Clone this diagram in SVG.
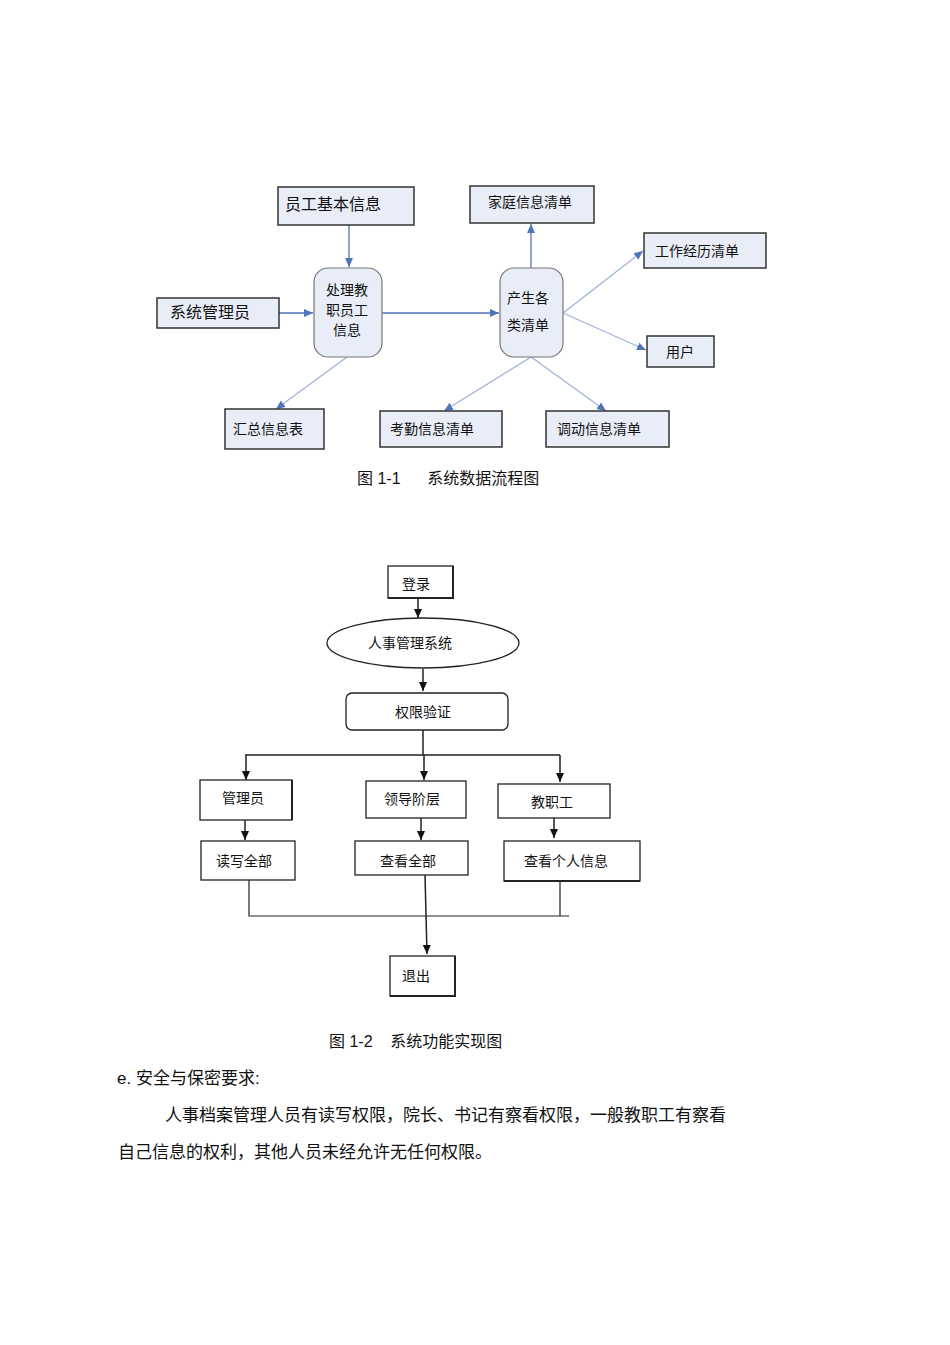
<svg xmlns="http://www.w3.org/2000/svg" width="950" height="1345" viewBox="0 0 950 1345">
<defs>
<style>
text{font-family:"Liberation Sans","Noto Sans CJK SC",sans-serif;fill:#111}
.b{fill:#e8edf7;stroke:#333;stroke-width:1.5}
.r{fill:#e8edf7;stroke:#777;stroke-width:1.2}
.bl{stroke:#4f74b8;stroke-width:1.3;fill:none}
.lb{stroke:#9fb3d9;stroke-width:1.3;fill:none}
.k{stroke:#222;stroke-width:1.5;fill:none}
.w{fill:#fff;stroke:#222;stroke-width:1.3}
.t{font-size:14px;text-anchor:middle}
</style>
<marker id="ab" markerWidth="10" markerHeight="10" refX="9" refY="5" orient="auto" markerUnits="userSpaceOnUse"><path d="M0,1 L9,5 L0,9 z" fill="#4f74b8"/></marker>
<marker id="ak" markerWidth="10" markerHeight="10" refX="9" refY="5" orient="auto" markerUnits="userSpaceOnUse"><path d="M0,1 L9,5 L0,9 z" fill="#111"/></marker>
</defs>
<rect width="950" height="1345" fill="#fff"/>
<g id="connectors1">
<path class="bl" d="M349,225 V267" marker-end="url(#ab)"/>
<path class="bl" d="M279,313 H313" marker-end="url(#ab)"/>
<path class="bl" d="M382,313 H499" marker-end="url(#ab)"/>
<path class="bl" d="M531,268 V224" marker-end="url(#ab)"/>
<path class="lb" d="M563,313 L643,251" marker-end="url(#ab)"/>
<path class="lb" d="M563,313 L646,350" marker-end="url(#ab)"/>
<path class="lb" d="M347,357 L276,409" marker-end="url(#ab)"/>
<path class="lb" d="M531,357 L444,411" marker-end="url(#ab)"/>
<path class="lb" d="M531,357 L606,411" marker-end="url(#ab)"/>
</g>
<g id="n_yuangong"><rect class="b" x="278" y="187" width="136" height="38"/><text x="285" y="210" style="font-size:16px">员工基本信息</text></g>
<g id="n_jiating"><rect class="b" x="470" y="186" width="124" height="37"/><text class="t" x="530" y="207">家庭信息清单</text></g>
<g id="n_gongzuo"><rect class="b" x="644" y="233" width="122" height="35"/><text class="t" x="697" y="256">工作经历清单</text></g>
<g id="n_xitong"><rect class="b" x="157" y="298" width="122" height="30"/><text x="170" y="318" style="font-size:16px">系统管理员</text></g>
<g id="n_chuli"><rect class="r" x="314" y="268" width="68" height="89" rx="14"/><text class="t" x="347" y="295">处理教</text><text class="t" x="347" y="315">职员工</text><text class="t" x="347" y="335">信息</text></g>
<g id="n_chansheng"><rect class="r" x="500" y="268" width="63" height="89" rx="14"/><text class="t" x="528" y="303">产生各</text><text class="t" x="528" y="330">类清单</text></g>
<g id="n_yonghu"><rect class="b" x="647" y="336" width="67" height="31"/><text class="t" x="680" y="357">用户</text></g>
<g id="n_huizong"><rect class="b" x="225" y="409" width="99" height="40"/><text class="t" x="268" y="434">汇总信息表</text></g>
<g id="n_kaoqin"><rect class="b" x="380" y="411" width="122" height="36"/><text class="t" x="432" y="434">考勤信息清单</text></g>
<g id="n_diaodong"><rect class="b" x="546" y="411" width="123" height="36"/><text class="t" x="599" y="434">调动信息清单</text></g>
<text x="357" y="484" style="font-size:16px" xml:space="preserve">图 1-1      系统数据流程图</text>

<g id="connectors2">
<path class="k" d="M418,598 V618" marker-end="url(#ak)"/>
<path class="k" d="M423,669 V691" marker-end="url(#ak)"/>
<path class="k" d="M423,730 V755 M245,755 H560"/>
<path class="k" d="M246,755 V780" marker-end="url(#ak)"/>
<path class="k" d="M424,755 V780" marker-end="url(#ak)"/>
<path class="k" d="M560,755 V782" marker-end="url(#ak)"/>
<path class="k" d="M245,820 V840" marker-end="url(#ak)"/>
<path class="k" d="M421,818 V840" marker-end="url(#ak)"/>
<path class="k" d="M554,818 V838" marker-end="url(#ak)"/>
<path class="k" d="M249,880 V916 H569 M560,881 V916" style="stroke-width:1.2"/>
<path class="k" d="M425,875 L427,954" marker-end="url(#ak)"/>
</g>
<g id="n_denglu"><rect class="w" x="388" y="566" width="65" height="32"/><path class="k" d="M453,566 V598 H388" style="stroke-width:2"/><text class="t" x="416" y="589">登录</text></g>
<g id="n_renshi"><ellipse class="w" cx="423" cy="643" rx="96" ry="25"/><text class="t" x="410" y="648">人事管理系统</text></g>
<g id="n_quanxian"><rect class="w" x="346" y="693" width="162" height="37" rx="6"/><text class="t" x="423" y="717">权限验证</text></g>
<g id="n_guanli"><rect class="w" x="200" y="780" width="92" height="40"/><path class="k" d="M292,780 V820" style="stroke-width:2"/><text class="t" x="243" y="803">管理员</text></g>
<g id="n_lingdao"><rect class="w" x="366" y="781" width="100" height="37"/><text class="t" x="412" y="804">领导阶层</text></g>
<g id="n_jiaozhi"><rect class="w" x="498" y="784" width="112" height="34"/><text class="t" x="552" y="807">教职工</text></g>
<g id="n_duxie"><rect class="w" x="201" y="841" width="94" height="39"/><text class="t" x="244" y="866">读写全部</text></g>
<g id="n_chakan"><rect class="w" x="355" y="841" width="113" height="34"/><text class="t" x="408" y="866">查看全部</text></g>
<g id="n_geren"><rect class="w" x="504" y="841" width="136" height="40"/><path class="k" d="M504,881 H640" style="stroke-width:2"/><text class="t" x="566" y="866">查看个人信息</text></g>
<g id="n_tuichu"><rect class="w" x="390" y="956" width="65" height="40"/><path class="k" d="M455,956 V996 H390" style="stroke-width:2"/><text class="t" x="416" y="981">退出</text></g>
<text x="329" y="1047" style="font-size:16px" xml:space="preserve">图 1-2    系统功能实现图</text>
<text x="117" y="1084" style="font-size:17px">e. 安全与保密要求:</text>
<text x="165" y="1121" style="font-size:17px">人事档案管理人员有读写权限，院长、书记有察看权限，一般教职工有察看</text>
<text x="118" y="1158" style="font-size:17px">自己信息的权利，其他人员未经允许无任何权限。</text>
</svg>
